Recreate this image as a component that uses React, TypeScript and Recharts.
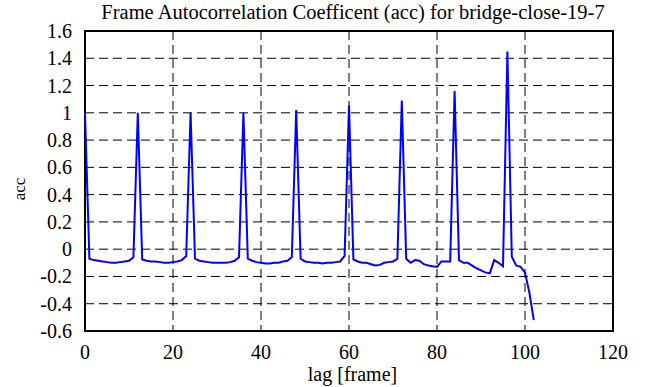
import React from "react";
import { LineChart, Line, XAxis, YAxis, CartesianGrid, ReferenceArea } from "recharts";

// acc value for lag 0, 1, 2, ... (frames)
const accValues = [
  1.0, -0.07, -0.08, -0.085, -0.09, -0.095, -0.1, -0.1, -0.095, -0.09, -0.085, -0.06,
  1.0, -0.075, -0.085, -0.09, -0.09, -0.095, -0.1, -0.1, -0.095, -0.09, -0.08, -0.05,
  1.0, -0.07, -0.085, -0.09, -0.095, -0.1, -0.1, -0.1, -0.1, -0.095, -0.085, -0.06,
  1.0, -0.07, -0.085, -0.095, -0.1, -0.105, -0.105, -0.1, -0.1, -0.09, -0.085, -0.06,
  1.02, -0.07, -0.09, -0.095, -0.1, -0.1, -0.105, -0.1, -0.1, -0.095, -0.09, -0.05,
  1.055, -0.075, -0.09, -0.1, -0.1, -0.11, -0.12, -0.115, -0.1, -0.095, -0.09, -0.07,
  1.09, -0.07, -0.1, -0.08, -0.085, -0.11, -0.12, -0.125, -0.13, -0.09, -0.09, -0.09,
  1.16, -0.08, -0.1, -0.1, -0.12, -0.14, -0.155, -0.17, -0.177, -0.08, -0.1, -0.125,
  1.45, -0.055, -0.12, -0.13, -0.17, -0.32, -0.52,
];

const xTicks = [0, 20, 40, 60, 80, 100, 120];
const yTicks = [-0.6, -0.4, -0.2, 0, 0.2, 0.4, 0.6, 0.8, 1, 1.2, 1.4, 1.6];

const title = "Frame Autocorrelation Coefficent (acc) for bridge-close-19-7";
const xLabel = "lag [frame]";
const yLabel = "acc";

const data = accValues.map((acc, lag) => ({ lag, acc }));

const FONT = "'Liberation Serif', 'DejaVu Serif', serif";
const FS = 20;

const fmtY = (v: number) => {
  const r = Math.round(v * 10) / 10;
  return r === 0 ? "0" : String(r);
};

const XTick = (props: any) => {
  const { x, y, payload } = props;
  return (
    <text x={x} y={y + 11} dy="0.75em" textAnchor="middle" fill="#000" fontFamily={FONT} fontSize={FS}>
      {payload.value}
    </text>
  );
};

const YTick = (props: any) => {
  const { x, y, payload } = props;
  return (
    <text x={x - 11} y={y} dy="0.35em" textAnchor="end" fill="#000" fontFamily={FONT} fontSize={FS}>
      {fmtY(payload.value)}
    </text>
  );
};

export default function App() {
  return (
    <div style={{ position: "absolute", left: 0, top: 0, width: 661, height: 387, background: "#fff", fontFamily: FONT }}>
      <LineChart width={661} height={387} data={data} margin={{ top: 31, right: 48, bottom: 26, left: 0 }}>
        <CartesianGrid stroke="#000" strokeDasharray="9 5" strokeWidth={1} horizontalValues={yTicks} verticalValues={xTicks} />
        <XAxis
          dataKey="lag"
          type="number"
          domain={[0, 120]}
          ticks={xTicks}
          height={30}
          axisLine={false}
          tickLine={false}
          tickSize={0}
          tick={<XTick />}
        />
        <YAxis
          type="number"
          domain={[-0.6, 1.6]}
          ticks={yTicks}
          width={85}
          axisLine={false}
          tickLine={false}
          tickSize={0}
          tick={<YTick />}
        />
        <ReferenceArea x1={0} x2={120} y1={-0.6} y2={1.6} fill="none" stroke="#000" strokeWidth={2} />
        <Line type="linear" dataKey="acc" stroke="#0000ff" strokeWidth={2} dot={false} isAnimationActive={false} />
      </LineChart>
      <div style={{ position: "absolute", left: 0, width: 661, top: 0, paddingLeft: 45, boxSizing: "border-box", textAlign: "center", fontSize: 20.5, lineHeight: "24px" }}>
        {title}
      </div>
      <div style={{ position: "absolute", left: 0, width: 661, top: 362, paddingLeft: 44, boxSizing: "border-box", textAlign: "center", fontSize: FS, lineHeight: "24px" }}>
        {xLabel}
      </div>
      <div
        style={{
          position: "absolute",
          left: 19,
          top: 189,
          fontSize: 17,
          lineHeight: "17px",
          whiteSpace: "nowrap",
          transform: "translate(-50%, -50%) rotate(-90deg)",
        }}
      >
        {yLabel}
      </div>
    </div>
  );
}
